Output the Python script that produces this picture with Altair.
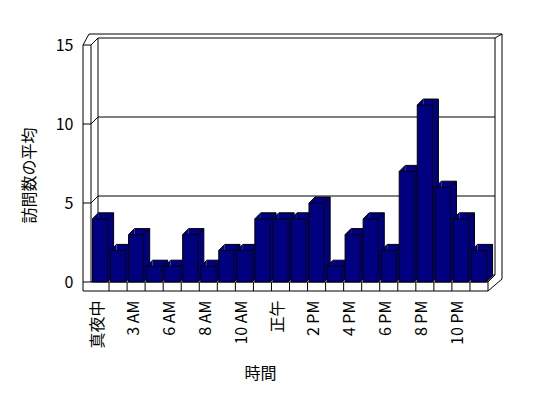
import altair as alt
import pandas as pd

# ---- data ----
values = [4, 2, 3, 1, 1, 3, 1, 2, 2, 4, 4, 4, 5, 1, 3, 4, 2, 7, 11.2, 6, 4, 2]
tick_positions = [0, 2, 4, 6, 8, 10, 12, 14, 16, 18, 20]
tick_labels = ["真夜中", "3 AM", "6 AM", "8 AM", "10 AM", "正午",
               "2 PM", "4 PM", "6 PM", "8 PM", "10 PM"]
y_ticks = [0, 5, 10, 15]
grid_values = [5, 10]
x_title = "時間"
y_title = "訪問数の平均"

# ---- layout / style ----
W, H = 397, 237
N = len(values)
Y_MAX = 15
NAVY = "#000080"
FONT = "Noto Sans CJK JP"
DEP = 6          # bar depth in px
WD = 7           # wall depth in px
HALF = 0.42      # half bar width in category units


def xd(px):
    return -0.5 + px * N / W


def yd(py):
    return Y_MAX - py * Y_MAX / H


# ---- frame (walls, floor, grid) as segments in plot pixels -> data units ----
segs = []


def seg(x1, y1, x2, y2):
    segs.append({"x": xd(x1), "y": yd(y1), "x2": xd(x2), "y2": yd(y2)})


def ypx(v):
    return H - v * H / Y_MAX


# left wall face
seg(-8, 0, -8, 246)
seg(0, 0, 0, 237)
seg(-8, 0, 0, 0)
# left wall top / outer frame
seg(-8, 0, -2, -11)
seg(0, 0, WD, -WD)
seg(-2, -11, 411, -11)
seg(404, -WD, 411, -11)
seg(411, -11, 411, 234)
seg(411, 234, 397, 246)
# back wall
seg(WD, -WD, 404, -WD)
seg(WD, -WD, WD, 237 - WD)
seg(404, -WD, 404, 237 - WD)
seg(WD, 237 - WD, 404, 237 - WD)
# floor
seg(-8, 237, 397, 237)
seg(-8, 246, 397, 246)
seg(397, 237, 397, 246)
seg(397, 237, 404, 237 - WD)
seg(0, 237, WD, 237 - WD)
for i in range(N - 1):
    px = (i + 1) * W / N
    seg(px, 237, px, 246)
# gridlines
for v in grid_values:
    yy = ypx(v)
    seg(-8, yy, 0, yy)
    seg(0, yy, WD, yy - WD)
    seg(WD, yy - WD, 404, yy - WD)

frame_df = pd.DataFrame(segs)

bars = pd.DataFrame({"i": list(range(N)), "v": values})
bars["l"] = bars["i"] - HALF
bars["r"] = bars["i"] + HALF
bars["zero"] = 0.0

xs = alt.Scale(domain=[-0.5, N - 0.5], nice=False, zero=False)
ys = alt.Scale(domain=[0, Y_MAX], nice=False, zero=False)

label_expr = ("[" + ",".join("'%s'" % t for t in tick_labels) + "][indexof(["
              + ",".join(str(p) for p in tick_positions) + "], datum.value)]")

x_axis = alt.Axis(values=tick_positions, labelExpr=label_expr, labelAngle=-90,
                  labelAlign="right", labelBaseline="middle", labelPadding=18,
                  labelOffset=-3, ticks=False, domain=False, grid=False,
                  labelFont=FONT, labelFontSize=16, labelColor="black",
                  titleFont=FONT, titleFontSize=16, titleFontWeight="normal",
                  titleColor="black", titleX=169, titleY=91,
                  titleAlign="center", titleBaseline="middle")
y_axis = alt.Axis(values=y_ticks, ticks=False, domain=False, grid=False,
                  labelPadding=18, labelFont=FONT, labelFontSize=16,
                  labelColor="black", titleFont=FONT, titleFontSize=16,
                  titleFontWeight="normal", titleColor="black", titleX=-62,
                  titleY=130, titleAlign="center", titleBaseline="middle",
                  titleAngle=-90)


def X(f):
    return alt.X(f, type="quantitative", scale=xs, axis=x_axis, title=x_title)


def Y(f):
    return alt.Y(f, type="quantitative", scale=ys, axis=y_axis, title=y_title)


frame = alt.Chart(frame_df).mark_rule(color="black", strokeWidth=1).encode(
    x=X("x"), y=Y("y"), x2="x2:Q", y2="y2:Q")

base = alt.Chart(bars)
off = dict(xOffset=DEP, x2Offset=DEP, yOffset=-DEP, y2Offset=-DEP)

back = base.mark_rect(color=NAVY, **off).encode(
    x=X("l"), x2="r:Q", y=Y("v"), y2="zero:Q")
back_top = base.mark_rule(color="black", strokeWidth=1, **off).encode(
    x=X("l"), x2="r:Q", y=Y("v"), y2="v:Q")
back_right = base.mark_rule(color="black", strokeWidth=1, **off).encode(
    x=X("r"), x2="r:Q", y=Y("v"), y2="zero:Q")
diag_tr = base.mark_rule(color="black", strokeWidth=1, x2Offset=DEP,
                         y2Offset=-DEP).encode(
    x=X("r"), x2="r:Q", y=Y("v"), y2="v:Q")
notch_tl = base.mark_point(shape="M0,0L2,-2L2,0Z", size=DEP * DEP, filled=True,
                           color=NAVY, opacity=1, strokeWidth=0).encode(
    x=X("l"), y=Y("v"))
notch_br = base.mark_point(shape="M0,0L2,-2L0,-2Z", size=DEP * DEP, filled=True,
                           color=NAVY, opacity=1, strokeWidth=0).encode(
    x=X("r"), y=Y("zero"))
diag_tl = base.mark_rule(color="black", strokeWidth=1, x2Offset=DEP,
                         y2Offset=-DEP).encode(
    x=X("l"), x2="l:Q", y=Y("v"), y2="v:Q")
diag_br = base.mark_rule(color="black", strokeWidth=1, x2Offset=DEP,
                         y2Offset=-DEP).encode(
    x=X("r"), x2="r:Q", y=Y("zero"), y2="zero:Q")
front = base.mark_rect(color=NAVY, stroke="black", strokeWidth=1).encode(
    x=X("l"), x2="r:Q", y=Y("v"), y2="zero:Q")

chart = alt.layer(frame, back, back_top, back_right, diag_tr, notch_tl,
                  notch_br, diag_tl, diag_br, front).properties(
    width=W, height=H,
    autosize=alt.AutoSizeParams(type="none"),
    padding={"left": 83, "top": 37, "right": 52, "bottom": 108},
    background="white",
).configure_view(stroke=None)

chart.save("out.html", embed_options={"renderer": "svg", "actions": False})
